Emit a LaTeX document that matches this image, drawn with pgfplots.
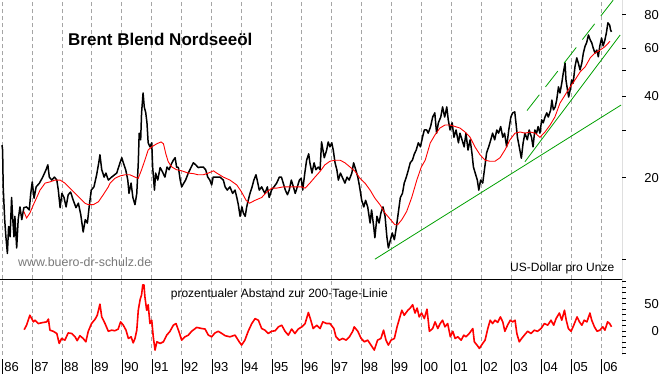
\documentclass[border=0pt]{standalone}
\usepackage{fontspec}
\setmainfont{Liberation Sans}
\usepackage{pgfplots}
\pgfplotsset{compat=1.18}
\definecolor{mygreen}{RGB}{0,160,0}
\definecolor{gridgray}{RGB}{165,165,165}
\definecolor{wwwgray}{RGB}{120,120,120}
\newcommand\yl[1]{\vrule width 0.9pt height 12.5pt depth 2.5pt\kern1.2pt #1}
\begin{document}
\begin{tikzpicture}
\useasboundingbox (0pt,0pt) rectangle (663pt,373pt);
% ---------------- top panel ----------------
\begin{axis}[
  at={(0pt,93.7pt)}, anchor=south west, scale only axis,
  width=622pt, height=279.3pt,
  xmin=1985.933, xmax=2006.701,
  ymode=log, ymin=8.43, ymax=90.6,
  axis line style={draw=none},
  xtick={1986,...,2006}, xticklabels={}, xtick style={draw=none},
  xmajorgrids,
  major grid style={gridgray, dash pattern=on 4pt off 3pt, line width=0.7pt},
  ytick={10,20,30,40,50,60,80}, yticklabels={,20,,40,,60,80},
  minor ytick={},
  ytick pos=right, yticklabel pos=right, tick align=outside, major tick length=4pt,
  ytick style={black, line width=0.8pt},
  yticklabel style={anchor=east, inner sep=0pt, xshift=33pt, font=\fontsize{13}{15}\selectfont},
]
\addplot[black, line width=1.5pt, line join=round] coordinates {
(1986.00,26.4)(1986.02,25.3)(1986.04,18.5)(1986.09,14.0)(1986.13,12.1)(1986.18,10.5)(1986.22,13.2)(1986.27,12.1)(1986.32,16.9)(1986.36,14.0)(1986.40,12.1)(1986.43,14.4)(1986.49,11.0)(1986.54,14.0)(1986.60,15.6)(1986.66,14.0)(1986.73,15.5)(1986.82,15.6)(1986.91,15.2)(1986.96,17.5)(1987.01,19.3)(1987.07,16.8)(1987.14,18.5)(1987.25,19.1)(1987.36,20.1)(1987.47,21.4)(1987.53,22.3)(1987.58,20.1)(1987.66,19.6)(1987.75,20.1)(1987.83,19.6)(1987.88,18.0)(1987.94,15.5)(1988.00,17.5)(1988.07,16.9)(1988.14,15.6)(1988.21,17.3)(1988.29,17.7)(1988.38,16.5)(1988.47,15.5)(1988.55,16.1)(1988.63,14.6)(1988.71,12.6)(1988.78,14.0)(1988.85,13.6)(1988.91,15.6)(1988.98,18.0)(1989.07,18.5)(1989.16,20.5)(1989.23,22.7)(1989.27,24.3)(1989.33,21.4)(1989.41,20.1)(1989.47,20.8)(1989.55,19.6)(1989.66,20.1)(1989.83,20.8)(1989.94,22.7)(1990.00,23.7)(1990.05,22.7)(1990.13,21.4)(1990.20,19.6)(1990.24,17.5)(1990.31,19.1)(1990.37,16.9)(1990.44,15.9)(1990.50,17.5)(1990.55,22.7)(1990.58,29.2)(1990.63,27.6)(1990.66,34.7)(1990.71,41.1)(1990.75,36.5)(1990.80,34.7)(1990.84,31.9)(1990.88,26.9)(1990.94,26.0)(1991.00,26.9)(1991.03,21.9)(1991.09,18.0)(1991.13,20.8)(1991.20,19.6)(1991.28,21.8)(1991.35,21.1)(1991.44,20.1)(1991.51,21.9)(1991.58,21.4)(1991.64,22.3)(1991.72,23.2)(1991.78,23.7)(1991.83,21.9)(1991.89,21.8)(1991.95,19.6)(1992.00,18.5)(1992.07,19.1)(1992.13,19.6)(1992.22,20.8)(1992.31,21.8)(1992.39,22.7)(1992.47,22.3)(1992.55,21.8)(1992.64,21.9)(1992.72,21.9)(1992.80,21.4)(1992.87,20.1)(1992.94,19.6)(1993.00,18.8)(1993.05,20.1)(1993.17,20.1)(1993.28,20.1)(1993.39,19.6)(1993.45,18.5)(1993.52,18.0)(1993.61,18.5)(1993.70,17.5)(1993.78,18.0)(1993.84,16.9)(1993.89,15.9)(1993.95,14.4)(1994.01,15.6)(1994.06,14.8)(1994.12,14.4)(1994.17,15.6)(1994.22,16.5)(1994.28,17.5)(1994.35,18.5)(1994.41,19.6)(1994.48,20.5)(1994.52,19.6)(1994.59,18.0)(1994.67,18.5)(1994.72,18.0)(1994.78,17.5)(1994.86,18.5)(1994.92,16.9)(1995.00,18.0)(1995.08,18.5)(1995.17,19.1)(1995.26,20.1)(1995.33,20.1)(1995.39,19.1)(1995.46,18.0)(1995.53,17.3)(1995.59,18.0)(1995.66,19.6)(1995.73,18.5)(1995.79,17.5)(1995.86,18.5)(1995.93,19.6)(1995.99,19.9)(1996.04,18.0)(1996.11,20.8)(1996.17,23.2)(1996.24,24.5)(1996.28,22.7)(1996.35,20.8)(1996.42,22.7)(1996.48,21.4)(1996.56,21.9)(1996.62,21.4)(1996.67,27.1)(1996.76,23.7)(1996.84,25.3)(1996.89,27.1)(1996.95,26.0)(1997.01,26.9)(1997.06,25.3)(1997.12,22.7)(1997.18,21.4)(1997.23,19.6)(1997.30,20.8)(1997.36,20.1)(1997.45,19.1)(1997.52,20.1)(1997.59,19.6)(1997.68,20.8)(1997.74,22.7)(1997.81,21.4)(1997.88,20.1)(1997.94,18.5)(1998.01,16.5)(1998.08,15.6)(1998.14,16.5)(1998.21,15.6)(1998.29,13.6)(1998.34,15.2)(1998.41,13.2)(1998.45,12.0)(1998.52,14.4)(1998.59,13.6)(1998.65,14.8)(1998.72,15.6)(1998.79,14.4)(1998.85,12.1)(1998.90,11.0)(1998.97,11.8)(1999.03,12.5)(1999.10,11.8)(1999.17,13.2)(1999.23,14.8)(1999.30,16.9)(1999.37,17.5)(1999.43,19.1)(1999.50,20.1)(1999.57,21.4)(1999.63,22.7)(1999.70,23.2)(1999.77,24.5)(1999.83,25.3)(1999.90,26.9)(1999.97,26.0)(2000.04,28.2)(2000.10,30.0)(2000.18,30.0)(2000.23,29.2)(2000.31,30.9)(2000.38,33.5)(2000.45,34.7)(2000.51,29.2)(2000.57,31.9)(2000.65,33.5)(2000.71,36.5)(2000.78,33.5)(2000.85,36.5)(2000.90,32.7)(2000.96,30.0)(2001.03,31.9)(2001.09,28.2)(2001.16,30.0)(2001.24,26.9)(2001.29,29.2)(2001.36,27.6)(2001.43,26.0)(2001.49,29.2)(2001.56,25.3)(2001.63,27.6)(2001.69,24.7)(2001.74,21.9)(2001.80,20.8)(2001.87,19.6)(2001.92,18.0)(2001.98,19.6)(2002.05,19.1)(2002.12,21.9)(2002.18,24.7)(2002.25,26.0)(2002.32,27.6)(2002.38,29.2)(2002.45,27.6)(2002.52,30.0)(2002.58,29.2)(2002.65,30.9)(2002.72,28.2)(2002.78,29.2)(2002.85,26.0)(2002.92,30.0)(2002.99,33.5)(2003.05,34.7)(2003.12,35.0)(2003.16,31.9)(2003.21,28.2)(2003.27,26.0)(2003.34,23.6)(2003.40,26.9)(2003.46,29.2)(2003.54,27.6)(2003.60,30.0)(2003.68,28.2)(2003.73,26.0)(2003.79,30.0)(2003.85,29.2)(2003.90,30.9)(2003.96,29.2)(2004.02,32.7)(2004.07,31.9)(2004.13,33.5)(2004.19,34.7)(2004.24,33.5)(2004.32,35.6)(2004.36,38.7)(2004.41,35.6)(2004.47,36.5)(2004.52,38.7)(2004.58,43.3)(2004.63,41.1)(2004.69,44.7)(2004.74,48.7)(2004.80,53.0)(2004.83,45.9)(2004.88,42.2)(2004.92,39.7)(2004.97,42.2)(2005.02,45.9)(2005.07,44.7)(2005.13,51.3)(2005.19,55.4)(2005.24,53.1)(2005.30,50.0)(2005.36,53.1)(2005.41,57.7)(2005.47,61.3)(2005.52,63.0)(2005.58,67.3)(2005.64,64.5)(2005.69,63.0)(2005.74,60.2)(2005.80,57.7)(2005.86,59.2)(2005.91,55.9)(2005.96,61.3)(2006.02,65.6)(2006.07,61.3)(2006.13,64.5)(2006.18,68.6)(2006.23,74.6)(2006.29,73.2)(2006.32,70.2)(2006.35,69.1)
};
\addplot[red, line width=0.9pt] coordinates {
(1986.73,15.0)(1986.82,14.2)(1986.93,14.8)(1987.05,15.9)(1987.16,16.9)(1987.27,18.0)(1987.44,19.1)(1987.60,19.3)(1987.77,19.6)(1987.94,19.6)(1988.10,19.1)(1988.27,18.3)(1988.44,17.5)(1988.60,16.8)(1988.77,16.1)(1988.88,15.9)(1989.05,15.9)(1989.22,16.3)(1989.38,17.3)(1989.55,18.5)(1989.61,19.1)(1989.77,19.9)(1989.94,20.3)(1990.11,20.5)(1990.27,20.5)(1990.44,20.1)(1990.55,19.9)(1990.66,21.4)(1990.77,23.2)(1990.88,25.3)(1991.00,26.0)(1991.17,26.7)(1991.31,27.1)(1991.39,26.7)(1991.47,24.5)(1991.55,22.9)(1991.67,21.9)(1991.83,21.4)(1992.00,21.2)(1992.22,20.8)(1992.39,20.7)(1992.55,20.5)(1992.72,20.5)(1992.89,20.8)(1993.06,21.2)(1993.17,20.8)(1993.39,20.1)(1993.61,19.6)(1993.84,18.8)(1994.00,17.7)(1994.15,16.5)(1994.26,16.1)(1994.45,16.5)(1994.67,16.9)(1994.84,17.7)(1995.01,18.3)(1995.17,18.3)(1995.39,18.5)(1995.62,18.5)(1995.84,18.5)(1996.01,18.5)(1996.12,18.3)(1996.28,19.1)(1996.45,20.1)(1996.62,21.1)(1996.78,22.3)(1996.95,23.0)(1997.12,23.2)(1997.29,23.2)(1997.45,22.7)(1997.62,21.9)(1997.79,21.1)(1997.95,19.9)(1998.12,19.1)(1998.29,18.0)(1998.45,16.8)(1998.62,15.9)(1998.79,14.8)(1998.95,14.1)(1999.12,13.4)(1999.21,13.4)(1999.35,14.0)(1999.51,15.0)(1999.68,16.9)(1999.85,19.6)(2000.00,21.9)(2000.13,23.2)(2000.30,26.9)(2000.46,28.8)(2000.62,30.5)(2000.79,31.3)(2000.96,31.3)(2001.13,30.9)(2001.29,30.5)(2001.46,29.5)(2001.63,28.2)(2001.79,26.0)(2001.96,24.3)(2002.13,23.2)(2002.29,23.0)(2002.46,23.0)(2002.63,23.7)(2002.79,25.3)(2002.96,27.6)(2003.13,29.2)(2003.30,29.5)(2003.46,29.2)(2003.63,29.5)(2003.80,29.2)(2003.96,28.2)(2004.13,29.5)(2004.30,31.3)(2004.46,33.5)(2004.63,37.7)(2004.80,40.4)(2004.96,43.1)(2005.13,45.9)(2005.30,49.1)(2005.47,51.3)(2005.64,55.4)(2005.80,57.7)(2005.97,59.2)(2006.13,60.9)(2006.30,63.8)
};
\addplot[mygreen, line width=0.8pt] coordinates {(1998.45,10.0)(2006.67,37.1)};
\addplot[mygreen, line width=0.8pt] coordinates {(2003.46,22.9)(2006.64,67.3)};
\addplot[mygreen, line width=0.8pt, dash pattern=on 20pt off 10pt] coordinates {(2003.53,35.4)(2006.41,90.6)};
\draw[black, line width=0.9pt] (rel axis cs:0,0) -- (rel axis cs:1,0) -- (rel axis cs:1,1);
\end{axis}
% ---------------- bottom panel ----------------
\begin{axis}[
  at={(0pt,18pt)}, anchor=south west, scale only axis,
  width=622pt, height=75.7pt,
  xmin=1985.933, xmax=2006.701,
  ymin=-42.9, ymax=94.0,
  axis line style={draw=none},
  xtick={1986,...,2006},
  xticklabels={\yl{86},\yl{87},\yl{88},\yl{89},\yl{90},\yl{91},\yl{92},\yl{93},\yl{94},\yl{95},\yl{96},\yl{97},\yl{98},\yl{99},\yl{00},\yl{01},\yl{02},\yl{03},\yl{04},\yl{05},\yl{06}},
  xtick style={draw=none},
  xticklabel style={anchor=north west, inner sep=0pt, font=\fontsize{13}{15}\selectfont},
  xmajorgrids,
  major grid style={gridgray, dash pattern=on 4pt off 3pt, line width=0.7pt},
  ytick={-40,-30,...,90}, yticklabels={,,,,0,,,,,50,,,,},
  ytick pos=right, yticklabel pos=right, tick align=outside, major tick length=4pt,
  ytick style={black, line width=0.8pt},
  yticklabel style={anchor=east, inner sep=0pt, xshift=33pt, font=\fontsize{13}{15}\selectfont},
]
\addplot[red, line width=1.6pt, line join=round] coordinates {
(1986.74,3)(1986.82,11)(1986.93,29)(1986.99,23)(1987.05,17)(1987.10,20)(1987.21,14)(1987.38,16)(1987.49,17)(1987.55,22)(1987.60,2)(1987.71,0)(1987.83,-4)(1987.91,-22)(1987.99,-13)(1988.10,-16)(1988.21,-3)(1988.33,-4)(1988.44,-10)(1988.51,-17)(1988.60,-8)(1988.71,-13)(1988.80,-19)(1988.88,0)(1988.99,14)(1989.11,22)(1989.18,29)(1989.27,49)(1989.33,26)(1989.44,14)(1989.55,0)(1989.66,2)(1989.77,1)(1989.88,4)(1989.96,17)(1990.05,11)(1990.14,2)(1990.22,-13)(1990.31,-10)(1990.38,-21)(1990.44,-13)(1990.50,2)(1990.55,38)(1990.61,57)(1990.66,66)(1990.70,84)(1990.74,84)(1990.77,63)(1990.83,38)(1990.88,48)(1990.94,14)(1991.00,20)(1991.05,-10)(1991.11,-34)(1991.17,-19)(1991.28,-22)(1991.39,-19)(1991.50,-7)(1991.61,0)(1991.72,11)(1991.81,14)(1991.89,2)(1992.00,-16)(1992.11,-10)(1992.22,-7)(1992.33,0)(1992.50,7)(1992.67,5)(1992.78,4)(1992.89,-7)(1993.00,-10)(1993.11,-3)(1993.22,0)(1993.34,-4)(1993.45,-8)(1993.61,-10)(1993.78,-7)(1993.92,-19)(1994.00,-25)(1994.11,-16)(1994.22,0)(1994.34,14)(1994.45,23)(1994.56,20)(1994.67,5)(1994.78,2)(1994.89,-4)(1995.00,0)(1995.12,1)(1995.23,8)(1995.34,11)(1995.45,0)(1995.56,-7)(1995.67,4)(1995.78,-4)(1995.89,4)(1996.01,8)(1996.12,14)(1996.23,34)(1996.31,20)(1996.39,5)(1996.51,11)(1996.62,5)(1996.71,17)(1996.84,14)(1996.95,14)(1997.08,5)(1997.15,-10)(1997.26,-16)(1997.38,-13)(1997.49,-16)(1997.60,-10)(1997.71,0)(1997.76,8)(1997.88,0)(1997.99,-13)(1998.10,-19)(1998.21,-16)(1998.32,-25)(1998.43,-34)(1998.54,-16)(1998.65,-13)(1998.74,2)(1998.82,-16)(1998.90,-25)(1998.99,-16)(1999.10,-13)(1999.19,8)(1999.27,23)(1999.35,38)(1999.43,29)(1999.55,38)(1999.63,42)(1999.71,48)(1999.79,33)(1999.86,42)(1999.93,26)(2000.01,33)(2000.10,23)(2000.19,40)(2000.27,0)(2000.38,5)(2000.46,17)(2000.55,5)(2000.63,14)(2000.71,20)(2000.79,8)(2000.88,14)(2000.97,-10)(2001.05,0)(2001.13,-13)(2001.22,-10)(2001.33,-16)(2001.42,-7)(2001.49,-10)(2001.60,-4)(2001.72,5)(2001.77,-19)(2001.86,-25)(2001.94,-31)(2002.05,-22)(2002.13,-16)(2002.22,5)(2002.30,20)(2002.38,14)(2002.46,20)(2002.55,16)(2002.64,26)(2002.72,17)(2002.79,0)(2002.88,11)(2002.97,20)(2003.05,17)(2003.13,20)(2003.19,-4)(2003.27,-19)(2003.35,-13)(2003.44,-7)(2003.55,0)(2003.66,-4)(2003.77,2)(2003.88,0)(2004.00,5)(2004.11,14)(2004.22,11)(2004.33,20)(2004.42,11)(2004.50,23)(2004.61,33)(2004.69,20)(2004.78,38)(2004.84,20)(2004.91,5)(2005.00,0)(2005.09,11)(2005.20,26)(2005.28,17)(2005.36,11)(2005.44,20)(2005.53,17)(2005.63,33)(2005.69,20)(2005.78,8)(2005.87,0)(2005.96,2)(2006.06,8)(2006.13,2)(2006.22,17)(2006.29,14)(2006.35,8)
};
\draw[black, line width=0.9pt] (rel axis cs:1,0) -- (rel axis cs:1,1);
\end{axis}
% ---------------- texts ----------------
\node[anchor=base west, inner sep=0pt] at (68pt,327pt) {\fontsize{17}{20}\selectfont\bfseries Brent Blend Nordseeöl};
\node[anchor=base west, inner sep=0pt, text=wwwgray] at (18pt,107pt) {\fontsize{12.4}{14}\selectfont www.buero-dr-schulz.de};
\node[anchor=base west, inner sep=0pt] at (510pt,101.5pt) {\fontsize{12}{14}\selectfont US-Dollar pro Unze};
\node[anchor=base west, inner sep=0pt] at (170.7pt,75.4pt) {\fontsize{12}{14}\selectfont prozentualer Abstand zur 200-Tage-Linie};
\end{tikzpicture}
\end{document}
